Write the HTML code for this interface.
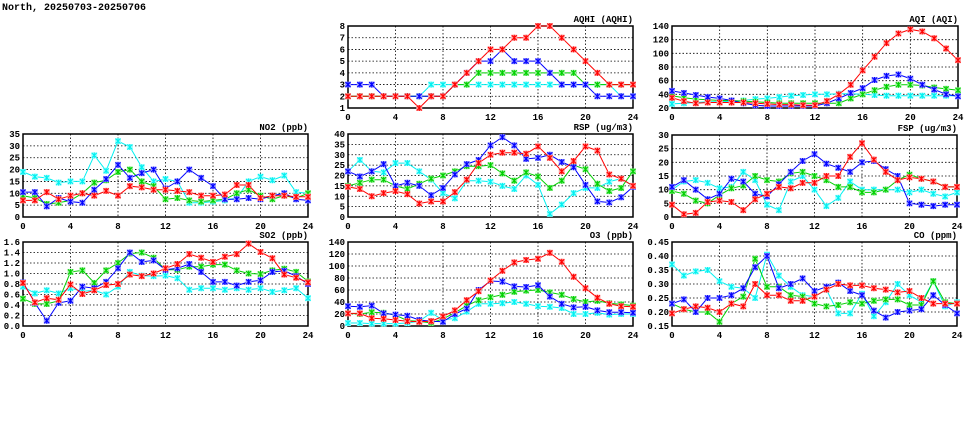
<!DOCTYPE html>
<html><head><meta charset="utf-8"><style>
body{margin:0;background:#fff;width:975px;height:447px;overflow:hidden}
svg{display:block}
text{font-family:"Liberation Mono","DejaVu Sans Mono",monospace;font-size:9px;font-weight:bold;fill:#000}
</style></head><body>
<svg id="c" width="975" height="447">
<text x="2" y="10" style="font-size:10px">North, 20250703-20250706</text>
</svg>
<script>
const hours=[0,1,2,3,4,5,6,7,8,9,10,11,12,13,14,15,16,17,18,19,20,21,22,23,24];
const xTicks=[0,4,8,12,16,20,24];
const aqhiCyan=[2,2,2,2,2,2,2,3,3,3,3,3,3,3,3,3,3,3,3,3,3,3,3,2,2];
const aqhiGreen=[2,2,2,2,2,2,2,2,2,3,3,4,4,4,4,4,4,4,4,4,3,3,3,3,3];
const aqhiBlue=[3,3,3,2,2,2,2,2,2,3,4,5,5,6,5,5,5,4,3,3,3,2,2,2,2];
const aqhiRed=[2,2,2,2,2,2,1,2,2,3,4,5,6,6,7,7,8,8,7,6,5,4,3,3,3];
const aqiCyan=[26,27,28,29,29,30,31,33,34,36,38,39,40,40,41,41,40,39,38,38,38,38,38,38,38];
const aqiGreen=[38,35,33,32,31,31,30,29,28,27,27,27,27,27,27,34,40,46,51,54,54,53,50,48,46];
const aqiBlue=[45,42,39,36,34,31,27,24,23,23,23,23,23,27,34,42,49,61,67,69,63,54,47,40,37];
const aqiRed=[35,30,27,28,28,28,28,27,26,25,25,24,24,30,40,54,75,95,115,129,135,132,122,107,90];
const no2Cyan=[19,17,16.5,14.5,15,15,26,19.5,32,29.5,21,15,16,15,6,6,6.5,7,8,15,17,15.5,17.5,10.5,10];
const no2Green=[9,8,5.5,6,7,10,14.5,15.5,19,20,15,13,7.5,8,7,6.5,7,7.5,10,11.5,9,7.5,9,8,10];
const no2Blue=[10.5,10.5,4.5,8,6.5,6,11.5,16,22,16.5,18.5,20,12,15,20,16.5,13,7.5,7.5,8,7.5,9,10,7.5,7];
const no2Red=[7,7,10.5,7.5,9,10,9,11,9,13,12.5,11.5,11.5,11,10.5,9,9,9.5,13.5,13.5,8,9,9,8.5,8.5];
const rspCyan=[22,27.5,22,21.5,26,26,22,18,11.5,9,17.5,17.5,17,15,13.5,20,15.5,1.5,6,11.5,14,14,17,18.5,15];
const rspGreen=[15,16.5,18,18,15,13.5,16,18.5,20,22,24.5,24.5,25,21,17.5,21.5,19.5,14,17.5,25,23,16,12.5,14,22];
const rspBlue=[22,19.5,22,25.5,15,16.5,15,10.5,14,20.5,25.5,27.5,34.5,38.5,34.5,28,28.5,30,26.5,24,15.5,7.5,7,9.5,14.5];
const rspRed=[14.5,13.5,10,11.5,12.5,11,6.5,7.5,7.5,12,18,26,30,31,31,30.5,34,28.5,22,27,34,32,20.5,18.5,15];
const fspCyan=[10,13,13.5,12.5,10.5,11,16.5,13.5,4.5,2.5,13,15,10,4,7,13,10,10,10,10,9,10,8.5,7.5,9];
const fspGreen=[9.5,8.5,6,5,8,10.5,11.5,15,13.5,13,16,16.5,15,13.5,11,11,9,9,10,13.5,15.5,14,13,11,11];
const fspBlue=[11,13.5,10,6.5,8.5,14,13,8.5,7.5,12,16.5,20.5,23,19.5,18,16.5,20,20.5,17.5,15,5,4.5,4,4.5,4.5];
const fspRed=[4.5,1,1.5,5.5,6,5.5,2.5,6.5,8.5,11,10.5,12.5,12.5,15,15,22,27,21,16.5,13.5,14.5,14,13,11,11];
const so2Cyan=[0.75,0.62,0.68,0.62,0.72,0.66,0.68,0.6,0.75,1.03,0.96,0.95,0.96,0.91,0.69,0.72,0.72,0.69,0.72,0.69,0.72,0.65,0.68,0.72,0.53];
const so2Green=[0.52,0.42,0.42,0.48,1.03,1.06,0.82,1.06,1.2,1.38,1.4,1.3,1.07,1.07,1.13,1.13,1.17,1.17,1.06,1.0,0.99,1.06,1.09,1.03,0.85];
const so2Blue=[0.83,0.44,0.1,0.44,0.48,0.75,0.72,0.84,1.1,1.4,1.22,1.25,1.07,1.1,1.18,1.03,0.84,0.84,0.77,0.84,0.87,1.03,1.05,0.95,0.8];
const so2Red=[0.82,0.45,0.53,0.5,0.79,0.61,0.68,0.78,0.8,0.98,0.95,1.0,1.1,1.18,1.37,1.3,1.22,1.32,1.37,1.57,1.41,1.29,0.98,0.92,0.83];
const o3Cyan=[5,5,4,4,4,5,8,22,10,13,24,37,37,38,40,37,33,32,30,20,20,22,19,20,20];
const o3Green=[21,20,23,22,18,9,8,5,12,22,34,43,48,52,57,59,60,56,52,45,40,42,38,36,34];
const o3Blue=[33,32,34,21,19,17,10,8,7,20,29,60,75,74,66,65,68,49,37,31,32,26,23,23,22];
const o3Red=[21,21,13,12,10,8,7,8,16,26,43,58,76,92,106,110,112,122,107,82,63,47,37,33,32];
const coCyan=[0.37,0.33,0.345,0.35,0.31,0.29,0.285,0.25,0.405,0.33,0.29,0.26,0.255,0.28,0.195,0.195,0.265,0.185,0.235,0.30,0.26,0.235,0.31,0.22,0.235];
const coGreen=[0.23,0.21,0.20,0.20,0.165,0.23,0.255,0.39,0.29,0.29,0.26,0.255,0.23,0.22,0.225,0.235,0.23,0.24,0.245,0.245,0.225,0.225,0.31,0.235,0.23];
const coBlue=[0.23,0.245,0.20,0.25,0.25,0.26,0.285,0.36,0.40,0.285,0.30,0.32,0.275,0.29,0.305,0.275,0.26,0.205,0.18,0.20,0.205,0.21,0.26,0.225,0.195];
const coRed=[0.195,0.21,0.22,0.215,0.20,0.23,0.22,0.30,0.26,0.26,0.24,0.24,0.255,0.28,0.30,0.295,0.295,0.285,0.28,0.27,0.275,0.25,0.23,0.23,0.23];
const aqhiTicks=[1,2,3,4,5,6,7,8];
const aqiTicks=[20,40,60,80,100,120,140];
const no2Ticks=[0,5,10,15,20,25,30,35];
const rspTicks=[0,5,10,15,20,25,30,35,40];
const fspTicks=[0,5,10,15,20,25,30];
const so2Ticks=[0.0,0.2,0.4,0.6,0.8,1.0,1.2,1.4,1.6];
const o3Ticks=[0,20,40,60,80,100,120,140];
const coTicks=[0.15,0.20,0.25,0.30,0.35,0.40,0.45];

const NS='http://www.w3.org/2000/svg';
const svg=document.getElementById('c');
function mk(tag,at,parent){const e=document.createElementNS(NS,tag);for(const k in at)e.setAttribute(k,at[k]);(parent||svg).appendChild(e);return e;}
const colors={cyan:'#00f0f0',green:'#00d000',blue:'#0000ff',red:'#ff0000'};
const fills={cyan:'#a0ffff',green:'#a0f0a0',blue:'#a0a0ff',red:'#ffa0a0'};
function panel(name,title,x0,x1,y0,y1,ticks,dec,series){
  const g=mk('g',{});
  
  
  const ymin=ticks[0],ymax=ticks[ticks.length-1];
  const sx=v=>x0+(v-0)/24*(x1-x0);
  const sy=v=>y1-(v-ymin)/(ymax-ymin)*(y1-y0);
  ticks.forEach(t=>{
    const l=mk('line',{x1:x0,x2:x1,y1:sy(t),y2:sy(t),stroke:'#000','stroke-width':0.8,'stroke-dasharray':'1.5,2'},g);
    
    
    const tx=mk('text',{x:x0-3,y:sy(t)+3,'text-anchor':'end'},g);
    
    
    tx.textContent=t.toFixed(dec);
  });
  xTicks.forEach(t=>{
    const l=mk('line',{x1:sx(t),x2:sx(t),y1:y0,y2:y1,stroke:'#000','stroke-width':0.8,'stroke-dasharray':'1.5,2'},g);
    
    
    const tx=mk('text',{x:sx(t),y:y1+12,'text-anchor':'middle'},g);
    
    
    tx.textContent=t;
  });
  const fr=mk('rect',{x:x0,y:y0,width:x1-x0,height:y1-y0,fill:'none',stroke:'#000','stroke-width':1.5},g);
  
  
  const tt=mk('text',{x:x1,y:y0-4,'text-anchor':'end'},g);
  
  
  tt.textContent=title;
  series.forEach(([col,vals])=>{
    const pts=vals.map((v,i)=>sx(hours[i]).toFixed(1)+','+sy(v).toFixed(1)).join(' ');
    const pl=mk('polyline',{points:pts,fill:'none',stroke:colors[col],'stroke-width':1},g);
    
    
    vals.forEach((v,i)=>{
      const cx=sx(hours[i]),cy=sy(v);
      const m=mk('path',{d:`M${cx-3},${cy-3}h6v6h-6z`,fill:fills[col],stroke:'none'},g);
      
      
      mk('path',{d:`M${cx-2.5},${cy-2.5}L${cx+2.5},${cy+2.5}M${cx-2.5},${cy+2.5}L${cx+2.5},${cy-2.5}M${cx},${cy-3}V${cy+3}`,stroke:colors[col],'stroke-width':1.1},g);
    });
  });
}
panel('aqhi','AQHI (AQHI)',348,633,26,108,aqhiTicks,0,[['cyan',aqhiCyan],['green',aqhiGreen],['blue',aqhiBlue],['red',aqhiRed]]);
panel('aqi','AQI (AQI)',672,958,26,108,aqiTicks,0,[['cyan',aqiCyan],['green',aqiGreen],['blue',aqiBlue],['red',aqiRed]]);
panel('no2','NO2 (ppb)',23,308,134,217,no2Ticks,0,[['cyan',no2Cyan],['green',no2Green],['blue',no2Blue],['red',no2Red]]);
panel('rsp','RSP (ug/m3)',348,633,134,217,rspTicks,0,[['cyan',rspCyan],['green',rspGreen],['blue',rspBlue],['red',rspRed]]);
panel('fsp','FSP (ug/m3)',672,957,135,217,fspTicks,0,[['cyan',fspCyan],['green',fspGreen],['blue',fspBlue],['red',fspRed]]);
panel('so2','SO2 (ppb)',23,308,242,326,so2Ticks,1,[['cyan',so2Cyan],['green',so2Green],['blue',so2Blue],['red',so2Red]]);
panel('o3','O3 (ppb)',348,633,242,326,o3Ticks,0,[['cyan',o3Cyan],['green',o3Green],['blue',o3Blue],['red',o3Red]]);
panel('co','CO (ppm)',672,957,242,326,coTicks,2,[['cyan',coCyan],['green',coGreen],['blue',coBlue],['red',coRed]]);
</script>
</body></html>
